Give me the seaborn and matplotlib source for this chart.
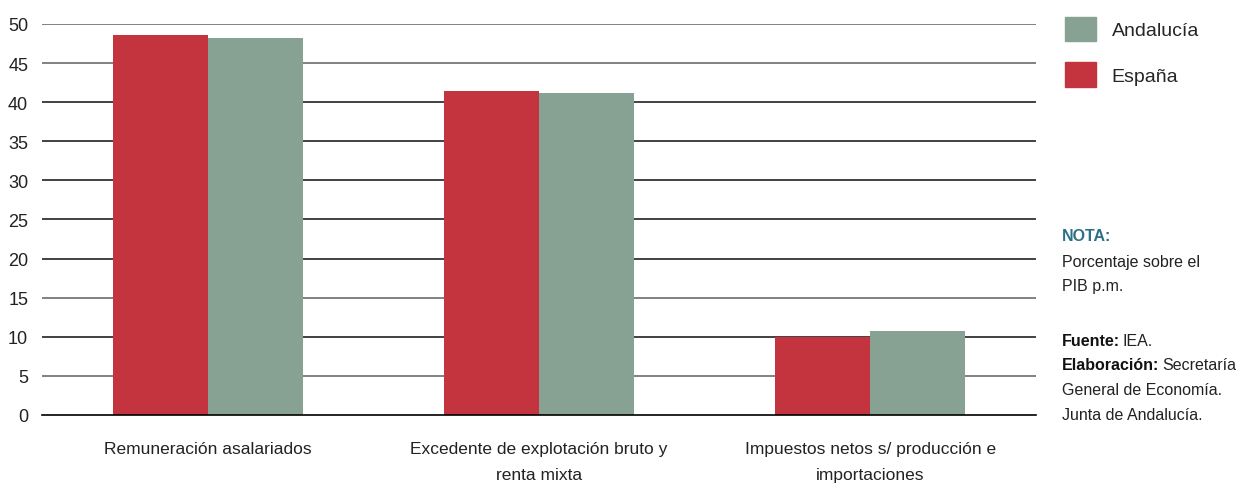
import numpy as np
import pandas as pd
import seaborn as sns
import matplotlib
matplotlib.use('Agg')
import matplotlib.pyplot as plt
from matplotlib.patches import Patch

categories = ["Remuneración asalariados",
              "Excedente de explotación bruto y\nrenta mixta",
              "Impuestos netos s/ producción e\nimportaciones"]
espana = [48.6, 41.4, 10.0]
andalucia = [48.2, 41.2, 10.7]
series = ["España", "Andalucía"]
colors = {"España": "#C4343F", "Andalucía": "#87A293"}
yticks = [0, 5, 10, 15, 20, 25, 30, 35, 40, 45, 50]

df = pd.DataFrame({
    "cat": categories * 2,
    "serie": ["España"] * 3 + ["Andalucía"] * 3,
    "valor": espana + andalucia,
})

sns.set_style("white")
plt.rcParams['font.family'] = ['Liberation Sans', 'DejaVu Sans']

fig = plt.figure(figsize=(12.44, 4.89), dpi=100)
ax = fig.add_axes([0.0338, 0.1493, 0.7990, 0.7997])

sns.barplot(data=df, x="cat", y="valor", hue="serie", hue_order=series,
            palette=colors, width=0.574, saturation=1, ax=ax, legend=False,
            linewidth=0)

ax.set_ylim(0, 50)
ax.set_xlim(-0.5, 2.5)
ax.set_yticks(yticks)
ax.set_yticklabels([str(t) for t in yticks], fontsize=13, color="#222222")
for t in yticks[1:]:
    ax.axhline(t, color="#777777" if t in (5, 15, 45, 50) else "#333333",
               lw=1.3, zorder=0)
ax.set_axisbelow(True)
ax.tick_params(axis='y', length=0, pad=10)
ax.set_xticks(range(3))
ax.set_xticklabels(categories, fontsize=12.5, color="#222222", linespacing=1.9,
                   va='top')
ax.tick_params(axis='x', which='major', length=0, pad=19)
ax.set_xticks([-0.5, 0.5, 1.5, 2.5], minor=True)
ax.tick_params(axis='x', which='minor', length=8, width=1, color="black",
               direction='out')
ax.set_xlabel("")
ax.set_ylabel("")
for s in ["top", "right", "left"]:
    ax.spines[s].set_visible(False)
ax.spines["bottom"].set_color("black")
ax.spines["bottom"].set_linewidth(1.2)

handles = [Patch(color=colors["Andalucía"]), Patch(color=colors["España"])]
fig.legend(handles, ["Andalucía", "España"], loc="upper left",
           bbox_to_anchor=(0.842, 1.0), frameon=False, fontsize=14,
           handlelength=1.6, handleheight=1.6, labelspacing=1.05,
           handletextpad=0.8)

# notes
x0 = 1062 / 1244
fs = 11.5
fig.text(x0, 1 - 237 / 489, "NOTA:", fontsize=fs, color="#2B7088",
         fontweight="bold", va="center")
fig.text(x0, 1 - 262 / 489, "Porcentaje sobre el", fontsize=fs,
         color="#222222", va="center")
fig.text(x0, 1 - 287 / 489, "PIB p.m.", fontsize=fs, color="#222222",
         va="center")

fig.canvas.draw()
renderer = fig.canvas.get_renderer()


def mixed(y, bold, rest):
    t = fig.text(x0, 1 - y / 489, bold, fontsize=fs, color="#111111",
                 fontweight="bold", va="center")
    bb = t.get_window_extent(renderer)
    fig.text(bb.x1 / fig.bbox.width + 0.002, 1 - y / 489, rest, fontsize=fs,
             color="#222222", va="center")


mixed(341, "Fuente:", "IEA.")
mixed(366, "Elaboración:", "Secretaría")
fig.text(x0, 1 - 391 / 489, "General de Economía.", fontsize=fs,
         color="#222222", va="center")
fig.text(x0, 1 - 416 / 489, "Junta de Andalucía.", fontsize=fs,
         color="#222222", va="center")

fig.savefig("out.png", dpi=100)
